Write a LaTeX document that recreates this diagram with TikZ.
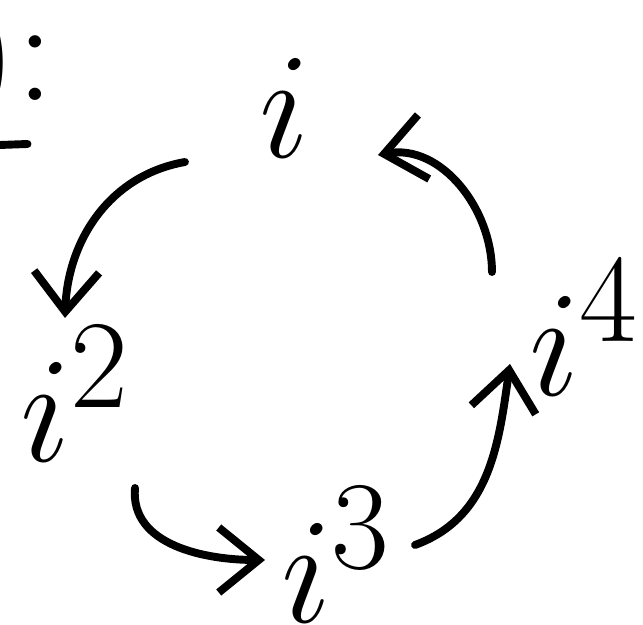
\documentclass[tikz,border=0pt]{standalone}
\usepackage{amsmath}
\usepackage{graphicx}
\usepackage{tikz}
\usetikzlibrary{positioning,arrows.meta,calc}
\newcommand{\bigpow}[1]{\scalebox{3.45}{$#1$}}
\tikzset{
  pen/.style={line width=4.5pt, line cap=round, line join=round},
  cyclearrow/.style={pen, -{Straight Barb[length=8mm, width=13mm, line width=4.5pt]}},
  power/.style={inner sep=0pt, font=\Huge}
}

\begin{document}
\begin{tikzpicture}
  \useasboundingbox (0,0) rectangle (12.86,12.5);
  % powers of i round the cycle
  \node[power] (i1) at (5.7,10.34) {\bigpow{i}};
  \node[power] (i2) at (1.52,4.62) {\bigpow{i^2}};
  \node[power] (i3) at (6.74,1.4) {\bigpow{i^3}};
  \node[power] (i4) at (11.7,5.94) {\bigpow{i^4}};
  % cut-off text at the top left
  \node[power, anchor=east] (frag) at (1.1,11.25) {\bigpow{){:}}};
  \draw[pen] (0,9.6) -- (0.55,9.62);
  \draw[cyclearrow] ($(i1)+(-2.0,-1.08)$) to[out=190, in=88] ($(i2)+(-0.22,1.52)$);
  \draw[cyclearrow] ($(i2)+(1.18,-1.88)$) to[out=265, in=180] ($(i3)+(-1.44,-0.1)$);
  \draw[cyclearrow] ($(i3)+(1.56,0.2)$) to[out=20, in=262] ($(i4)+(-1.5,-0.72)$);
  \draw[cyclearrow] ($(i4)+(-1.86,1.12)$) to[out=90, in=10] ($(i1)+(1.86,-0.94)$);
\end{tikzpicture}
\end{document}
